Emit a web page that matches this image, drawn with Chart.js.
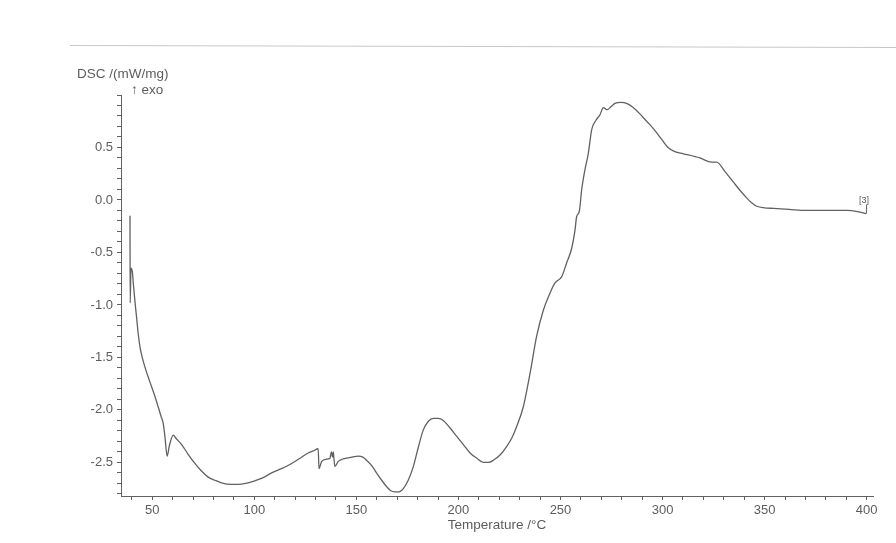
<!DOCTYPE html>
<html>
<head>
<meta charset="utf-8">
<script src="https://cdn.jsdelivr.net/npm/chart.js@4.4.0/dist/chart.umd.min.js"></script>
<style>
  html, body { margin: 0; padding: 0; background: #fff; }
</style>
</head>
<body>
<canvas id="dscChart" width="896" height="543"></canvas>
<script>
// DSC curve
const temperature = [
  39.1, 39.2, 39.6, 40.3, 40.7, 41.6, 42.4, 43.1, 44.0, 45.1, 46.4, 47.9, 49.7, 51.3, 52.9, 54.3,
  55.4, 56.2, 57.3, 58.4, 60.3, 61.6, 64.4, 67.5, 70.9, 74.0, 77.4, 80.7, 84.8, 88.5, 92.1, 95.8,
  99.5, 103.8, 108.5, 113.3, 118.3, 122.4, 126.4, 129.0, 131.3, 131.7, 133.0, 135.2, 137.1,
  137.3, 137.8, 138.3, 138.7, 139.0, 139.5, 141.1, 143.0, 145.2, 148.0, 150.9, 153.2, 155.0,
  157.5, 159.9, 162.4, 164.8, 166.9, 168.9, 171.0, 173.0, 175.4, 177.9, 180.3, 182.8, 185.2,
  187.7, 190.1, 192.6, 195.8, 199.1, 202.4, 205.7, 209.0, 212.2, 214.7, 217.1, 220.4, 223.6,
  226.1, 228.5, 231.8, 235.1, 238.3, 241.6, 244.8, 247.3, 250.6, 253.0, 255.5, 257.1, 257.9,
  259.2, 260.4, 262.0, 263.6, 265.3, 267.4, 269.3, 271.0, 272.9, 274.8, 276.7, 279.6, 282.4,
  285.6, 288.9, 292.2, 295.5, 299.1, 302.7, 306.0, 310.2, 318.3, 324.1, 326.5, 330.6, 334.7,
  338.0, 341.2, 343.8, 346.1, 350.0, 354.3, 362.0, 370.6, 380.0, 390.2, 395.5, 399.7
];
const dsc = [
  -0.15, -0.98, -0.65, -0.69, -0.79, -0.98, -1.13, -1.27, -1.40, -1.50, -1.59, -1.68, -1.78, -1.87, -1.97, -2.06,
  -2.13, -2.25, -2.44, -2.34, -2.24, -2.27, -2.33, -2.42, -2.51, -2.58, -2.64, -2.67, -2.70, -2.71, -2.71, -2.70,
  -2.68, -2.65, -2.60, -2.56, -2.51, -2.46, -2.41, -2.39, -2.37, -2.56, -2.49, -2.47, -2.46,
  -2.44, -2.40, -2.45, -2.40, -2.46, -2.54, -2.49, -2.47, -2.46, -2.45, -2.44, -2.45, -2.48,
  -2.53, -2.60, -2.67, -2.73, -2.77, -2.78, -2.78, -2.75, -2.67, -2.54, -2.36, -2.19, -2.11,
  -2.08, -2.08, -2.10, -2.17, -2.25, -2.33, -2.41, -2.46, -2.50, -2.50, -2.48, -2.43, -2.35,
  -2.27, -2.16, -1.97, -1.65, -1.30, -1.05, -0.89, -0.79, -0.73, -0.60, -0.46, -0.29, -0.16,
  -0.11, 0.10, 0.29, 0.44, 0.67, 0.76, 0.81, 0.88, 0.86, 0.89, 0.92, 0.93, 0.92,
  0.88, 0.82, 0.75, 0.68, 0.59, 0.50, 0.46, 0.44, 0.40, 0.36, 0.36, 0.27, 0.17,
  0.09, 0.02, -0.03, -0.06, -0.075, -0.08, -0.09, -0.10, -0.10, -0.10, -0.11, -0.13
];
const xTickLabels = [50, 100, 150, 200, 250, 300, 350, 400];
const yTickLabels = [0.5, 0.0, -0.5, -1.0, -1.5, -2.0, -2.5];
const curveLabel = '[3]';

const ink = '#616161';
Chart.defaults.font.family = '"Liberation Sans", Arial, sans-serif';
Chart.defaults.color = '#5c5c5c';

function minorTicks(from, to, step) {
  const out = [];
  for (let v = from; v <= to + 1e-9; v += step) out.push({ value: Math.round(v * 100) / 100 });
  return out;
}
function isLabel(list, v) {
  return list.some(l => Math.abs(l - v) < 1e-6);
}

const extras = {
  id: 'extras',
  afterDraw(chart) {
    const ctx = chart.ctx;
    const area = chart.chartArea;
    const xs = chart.scales.x, ys = chart.scales.y;
    ctx.save();
    // faint frame from the scan
    ctx.strokeStyle = '#c8c8c8';
    ctx.lineWidth = 1;
    ctx.beginPath();
    ctx.moveTo(70, 45.5);
    ctx.lineTo(896, 47.5);
    ctx.stroke();

    // y axis title
    ctx.fillStyle = '#5c5c5c';
    ctx.font = '13.5px "Liberation Sans", Arial, sans-serif';
    ctx.textBaseline = 'alphabetic';
    ctx.textAlign = 'left';
    ctx.fillText('DSC /(mW/mg)', area.left - 44, 78);
    ctx.fillText('\u2191 exo', area.left + 10, 94);

    // curve tag at the end of the trace
    const n = temperature.length - 1;
    const px = xs.getPixelForValue(temperature[n]);
    const py = ys.getPixelForValue(dsc[n]);
    ctx.strokeStyle = ink;
    ctx.beginPath();
    ctx.moveTo(px + 0.5, py);
    ctx.lineTo(px + 0.5, py - 9);
    ctx.stroke();
    ctx.font = '9px "Liberation Sans", Arial, sans-serif';
    ctx.textAlign = 'center';
    ctx.fillText(curveLabel, px - 2, py - 11);
    ctx.restore();
  }
};

new Chart(document.getElementById('dscChart'), {
  type: 'line',
  data: {
    datasets: [{
      data: temperature.map((t, i) => ({ x: t, y: dsc[i] })),
      borderColor: ink,
      borderWidth: 1.3,
      pointRadius: 0,
      cubicInterpolationMode: 'monotone',
      fill: false
    }]
  },
  options: {
    responsive: false,
    animation: false,
    layout: { padding: { left: 71, right: 23, top: 95, bottom: 7 } },
    plugins: { legend: { display: false }, tooltip: { enabled: false } },
    scales: {
      x: {
        type: 'linear',
        min: 34.7,
        max: 403.1,
        afterBuildTicks: axis => { axis.ticks = minorTicks(40, 400, 10); },
        afterFit: axis => { axis.height = 40; },
        ticks: {
          autoSkip: false,
          maxRotation: 0,
          padding: 3,
          color: '#5c5c5c',
          font: { size: 13 },
          callback: v => isLabel(xTickLabels, v) ? String(v) : ''
        },
        grid: { drawOnChartArea: false, drawTicks: true, tickLength: 4, color: ink },
        border: { display: true, color: ink, width: 1 },
        title: {
          display: true,
          text: 'Temperature /\u00B0C',
          color: '#5c5c5c',
          font: { size: 13.5 },
          padding: { top: 0, bottom: 3 }
        }
      },
      y: {
        min: -2.82,
        max: 1.0,
        afterBuildTicks: axis => { axis.ticks = minorTicks(-2.8, 1.0, 0.1); },
        afterFit: axis => { axis.width = 50; },
        ticks: {
          autoSkip: false,
          padding: 4,
          color: '#5c5c5c',
          font: { size: 13 },
          callback: v => isLabel(yTickLabels, v) ? v.toFixed(1) : ''
        },
        grid: { drawOnChartArea: false, drawTicks: true, tickLength: 4, color: ink },
        border: { display: true, color: ink, width: 1 }
      }
    }
  },
  plugins: [extras]
});
</script>
</body>
</html>
